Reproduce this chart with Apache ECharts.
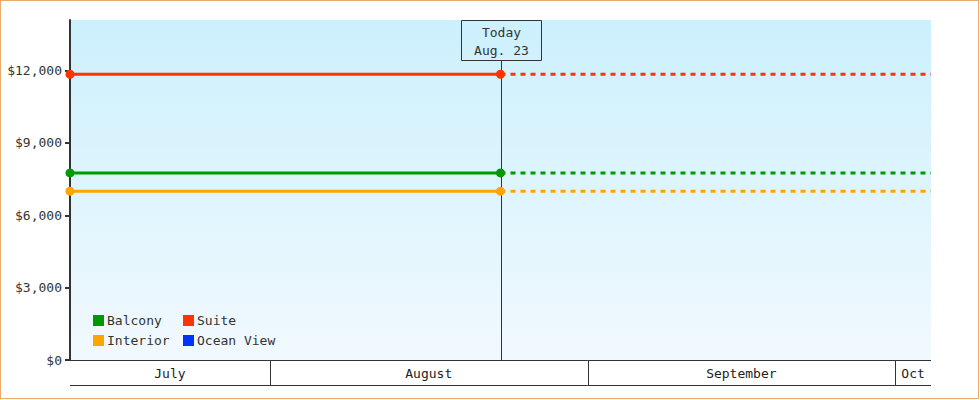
<!DOCTYPE html>
<html>
<head>
<meta charset="utf-8">
<script src="https://cdn.jsdelivr.net/npm/echarts@6/dist/echarts.min.js"></script>
<style>
  html, body { margin: 0; padding: 0; background: #fff; }
  #chart { position: absolute; left: 0; top: 0; width: 980px; height: 400px; }
  #frame { position: absolute; left: 0; top: 0; width: 979px; height: 399px; box-sizing: border-box; border: 1px solid #e9aa6c; pointer-events: none; }
</style>
</head>
<body>
<div id="chart"></div>
<div id="frame"></div>
<script>
// ---- data ----
const categories = ['Balcony', 'Interior', 'Suite', 'Ocean View'];
const currentPrices = [7760, 7000, 11850, null];
const rangeStart = '2024-07-12T12:00:00';
const todayDate = '2024-08-23T12:00:00';
const rangeEnd = '2024-10-04T12:00:00';
const todayLabel = 'Today\nAug. 23';
const monthStarts = ['2024-07-01T00:00:00', '2024-08-01T00:00:00', '2024-09-01T00:00:00', '2024-10-01T00:00:00', '2024-11-01T00:00:00'];
const monthLabels = ['July', 'August', 'September', 'Oct'];
const yTicks = [0, 3000, 6000, 9000, 12000];
const yMax = 14100;

// ---- styles ----
const palette = { 'Balcony': '#009900', 'Interior': '#ffa500', 'Suite': '#ff3300', 'Ocean View': '#0033ff' };
const FONT = '"DejaVu Sans Mono", "Liberation Mono", monospace';
const ts = s => new Date(s).getTime();

const chart = echarts.init(document.getElementById('chart'), null, { renderer: 'svg' });

const series = [];
categories.forEach((name, i) => {
  const p = currentPrices[i];
  const c = palette[name];
  series.push({
    type: 'line', name: name, z: 3,
    data: p == null ? [] : [[ts(rangeStart), p], [ts(todayDate), p]],
    symbol: 'circle', symbolSize: 9, showSymbol: true,
    lineStyle: { color: c, width: 3 }, itemStyle: { color: c }
  });
  series.push({
    type: 'line', name: name, z: 3,
    data: p == null ? [] : [[ts(todayDate), p], [ts(rangeEnd), p]],
    showSymbol: false, symbol: 'none',
    lineStyle: { color: c, width: 3, type: [5, 5] }, itemStyle: { color: c }
  });
});

// month band below the axis
series.push({
  type: 'custom', name: 'months', silent: true, clip: false, z: 1,
  encode: { x: [0, 1], y: 2 },
  data: monthLabels.map((l, i) => [ts(monthStarts[i]), ts(monthStarts[i + 1]), 0, i]),
  renderItem: function (params, api) {
    const cs = params.coordSys;
    const gx0 = cs.x, gx1 = cs.x + cs.width;
    const a = api.coord([api.value(0), 0])[0];
    const b = api.coord([api.value(1), 0])[0];
    const y0 = Math.round(cs.y + cs.height) + 0.5;
    const yb = y0 + 25;
    const l = Math.max(a, gx0), r = Math.min(b, gx1);
    const children = [
      { type: 'line', shape: { x1: l, y1: y0, x2: r, y2: y0 }, style: { stroke: '#333', lineWidth: 1 } },
      { type: 'line', shape: { x1: l, y1: yb, x2: r, y2: yb }, style: { stroke: '#333', lineWidth: 1 } },
      { type: 'text', style: { text: monthLabels[api.value(3)], x: (l + r) / 2, y: y0 + 13, align: 'center', verticalAlign: 'middle', fill: '#222', font: '13px ' + FONT } }
    ];
    if (b < gx1 - 1) {
      const bx = Math.round(b) + 0.5;
      children.push({ type: 'line', shape: { x1: bx, y1: y0, x2: bx, y2: yb }, style: { stroke: '#333', lineWidth: 1 } });
    }
    return { type: 'group', children: children };
  }
});

// today marker
series.push({
  type: 'custom', name: 'today', silent: true, clip: false, z: 2,
  encode: { x: 0, y: 1 },
  data: [[ts(todayDate), 0]],
  renderItem: function (params, api) {
    const cs = params.coordSys;
    const x = Math.round(api.coord([api.value(0), 0])[0]) + 0.5;
    const top = Math.round(cs.y) + 0.5;
    const bottom = cs.y + cs.height;
    return {
      type: 'group', children: [
        { type: 'line', shape: { x1: x, y1: top + 40, x2: x, y2: bottom }, style: { stroke: '#333', lineWidth: 1 } },
        { type: 'rect', shape: { x: x - 40, y: top, width: 80, height: 40 }, style: { stroke: '#333', lineWidth: 1, fill: 'none' } },
        { type: 'text', style: { text: todayLabel, x: x, y: top + 21, align: 'center', verticalAlign: 'middle', lineHeight: 18, fill: '#333', font: '13px ' + FONT } }
      ]
    };
  }
});

const legendCommon = {
  orient: 'vertical', icon: 'rect', itemWidth: 11, itemHeight: 11, itemGap: 7, top: 314,
  padding: 0, selectedMode: false,
  textStyle: { color: '#333', fontFamily: FONT, fontSize: 13, padding: [0, 0, 0, -2] }
};

chart.setOption({
  animation: false,
  backgroundColor: '#fff',
  grid: {
    left: 70, right: 49, top: 20, bottom: 40, show: true, borderWidth: 0,
    backgroundColor: new echarts.graphic.LinearGradient(0, 0, 0, 1, [
      { offset: 0, color: '#ccf0fd' }, { offset: 1, color: '#f1f9fe' }
    ])
  },
  legend: [
    Object.assign({}, legendCommon, { left: 93, data: [categories[0], categories[1]] }),
    Object.assign({}, legendCommon, { left: 183, data: [categories[2], categories[3]] })
  ],
  xAxis: {
    type: 'time', min: ts(rangeStart), max: ts(rangeEnd),
    axisLine: { show: false }, axisTick: { show: false }, axisLabel: { show: false }, splitLine: { show: false }
  },
  yAxis: {
    type: 'value', min: 0, max: yMax,
    axisLine: { show: true, lineStyle: { color: '#333', width: 2 } },
    axisTick: { show: true, length: 5, customValues: yTicks, lineStyle: { color: '#333', width: 2 } },
    axisLabel: {
      customValues: yTicks, color: '#333', fontFamily: FONT, fontSize: 13, margin: 8,
      formatter: v => '$' + String(v).replace(/\B(?=(\d{3})+(?!\d))/g, ',')
    },
    splitLine: { show: false }
  },
  series: series
});
</script>
</body>
</html>
